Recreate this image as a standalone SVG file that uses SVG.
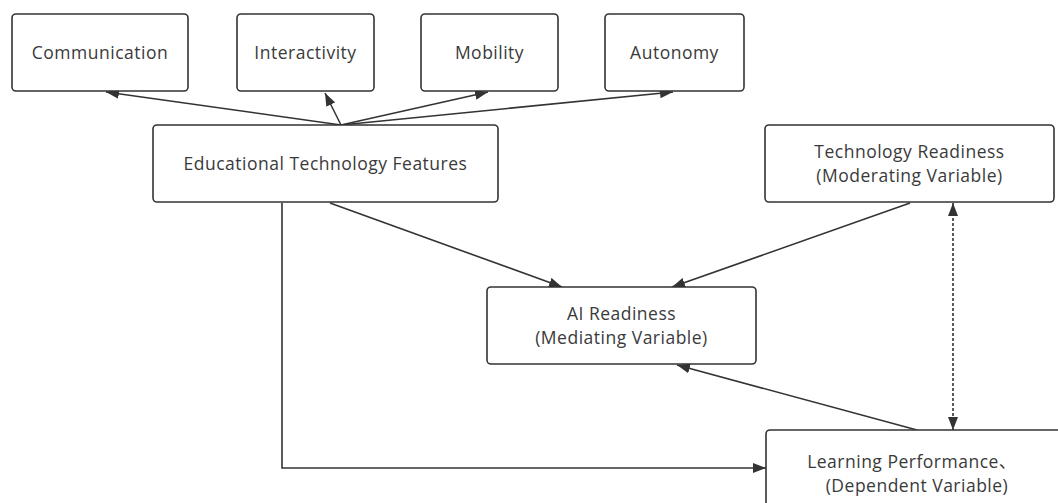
<svg xmlns="http://www.w3.org/2000/svg" width="1058" height="503" viewBox="0 0 1058 503">
<style>
.box{fill:#fff;stroke:#333;stroke-width:1.6}
.t{font-family:"Open Sans","Noto Sans","Noto Sans CJK SC",sans-serif;font-size:17.5px;letter-spacing:0.5px;fill:#3a3a3a;text-anchor:middle}
.c{fill:none;stroke:#333;stroke-width:1.6}
.d{fill:none;stroke:#333;stroke-width:1.6;stroke-dasharray:3 2}
</style>
<defs>
<marker id="arr" viewBox="0 0 13 10" refX="13" refY="5" markerWidth="13" markerHeight="10" orient="auto-start-reverse" markerUnits="userSpaceOnUse"><path d="M0,0 L13,5 L0,10 z" fill="#333"/></marker>
</defs>
<rect width="1058" height="503" fill="#fff"/>
<g id="connectors">
<line class="c" x1="341" y1="125" x2="106" y2="92" marker-end="url(#arr)"/>
<line class="c" x1="341" y1="125" x2="325" y2="93" marker-end="url(#arr)"/>
<line class="c" x1="341" y1="125" x2="488" y2="92" marker-end="url(#arr)"/>
<line class="c" x1="341" y1="125" x2="673" y2="92" marker-end="url(#arr)"/>
<line class="c" x1="330" y1="203" x2="562" y2="287" marker-end="url(#arr)"/>
<line class="c" x1="910" y1="203" x2="672" y2="287" marker-end="url(#arr)"/>
<line class="c" x1="917" y1="430" x2="677" y2="365" marker-end="url(#arr)"/>
<polyline class="c" points="282,203 282,468 766,468" marker-end="url(#arr)"/>
<line class="d" x1="953" y1="203" x2="953" y2="430" marker-start="url(#arr)" marker-end="url(#arr)"/>
</g>
<g id="communication"><rect class="box" x="12" y="14" width="176" height="77" rx="4"/><text class="t" x="100" y="59">Communication</text></g>
<g id="interactivity"><rect class="box" x="237" y="14" width="137" height="77" rx="4"/><text class="t" x="305.5" y="59">Interactivity</text></g>
<g id="mobility"><rect class="box" x="421" y="14" width="137" height="77" rx="4"/><text class="t" x="489.5" y="59">Mobility</text></g>
<g id="autonomy"><rect class="box" x="605" y="14" width="139" height="77" rx="4"/><text class="t" x="674.5" y="59">Autonomy</text></g>
<g id="edu-tech-features"><rect class="box" x="153" y="125" width="345" height="77" rx="4"/><text class="t" x="325.5" y="170">Educational Technology Features</text></g>
<g id="technology-readiness"><rect class="box" x="765" y="125" width="289" height="77" rx="4"/><text class="t" x="909.5" y="158">Technology Readiness</text><text class="t" x="909.5" y="182">(Moderating Variable)</text></g>
<g id="ai-readiness"><rect class="box" x="487" y="287" width="269" height="77" rx="4"/><text class="t" x="621.5" y="320">AI Readiness</text><text class="t" x="621.5" y="344">(Mediating Variable)</text></g>
<g id="learning-performance"><rect class="box" x="766" y="430" width="296" height="80" rx="4"/><text class="t" x="912" y="468">Learning Performance、</text><text class="t" x="917" y="492">(Dependent Variable)</text></g>
</svg>
